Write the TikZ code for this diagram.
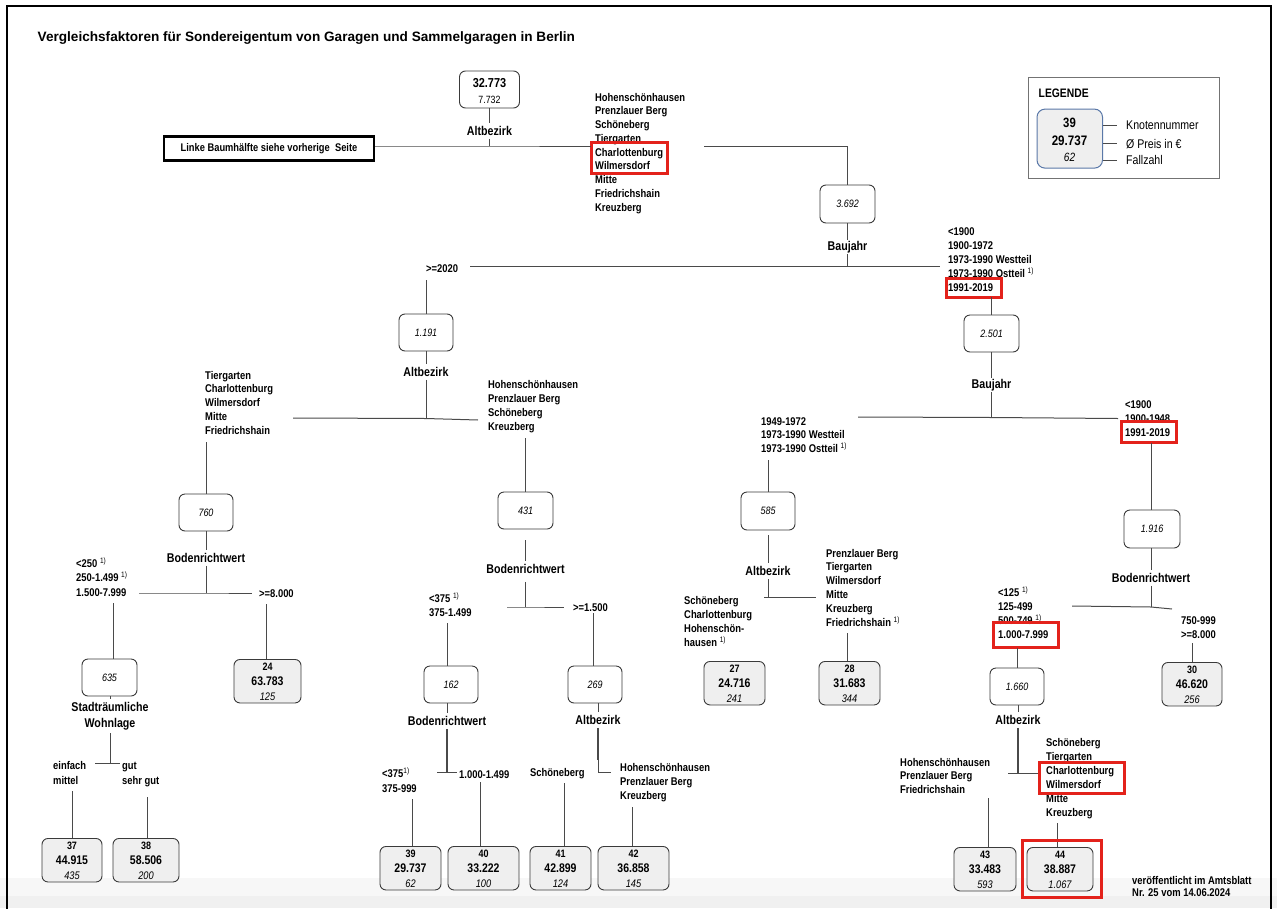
\documentclass[tikz,border=0pt]{standalone}
\usepackage{fontspec}
\setmainfont{Liberation Sans}[FakeStretch=0.84]
\newfontfamily\titlef{Liberation Sans}
\usetikzlibrary{calc}
\definecolor{hred}{HTML}{E3221B}
\definecolor{lnc}{HTML}{4A4A4A}
\definecolor{boxc}{HTML}{3A3A3A}
\definecolor{leaff}{HTML}{EFEFEF}
\definecolor{legb}{HTML}{5A78A8}
\newcommand\fs[2]{\fontsize{#1}{#2}\selectfont}
\newcommand\ls[2]{\vtop{\baselineskip=#1pt\lineskiplimit=-100pt\halign{##\hfil\cr#2\crcr}}}
\newcommand\lsc[2]{\vtop{\baselineskip=#1pt\lineskiplimit=-100pt\halign{\hfil##\hfil\cr#2\crcr}}}
\newcommand\supone{\textsuperscript{\mdseries 1)}}
\tikzset{
 ln/.style={draw=lnc, line width=1pt},
 lnb/.style={draw=lnc, line width=1.8pt},
 ibox/.style={draw=boxc, line width=0.9pt, rounded corners=6pt, fill=white, inner sep=0pt, font=\fs{10.7}{12}\itshape},
 lbox/.style={draw=boxc, line width=0.9pt, rounded corners=6pt, fill=leaff, inner sep=0pt},
 var/.style={font=\fs{12.7}{15}\bfseries, inner sep=3pt, anchor=base},
 lst/.style={font=\fs{11.2}{14}\bfseries, inner sep=0pt, anchor=base west},
 hl/.style={draw=hred, line width=3pt},
 fnum/.style={font=\fs{10.7}{12}\bfseries, inner sep=0pt, anchor=base},
 fpr/.style={font=\fs{12.5}{14}\bfseries, inner sep=0pt, anchor=base},
 fcnt/.style={font=\fs{11}{12}\itshape, inner sep=0pt, anchor=base},
 legt/.style={font=\fs{12.6}{14}, inner sep=0pt, anchor=base west},
}
\newcommand\leaf[7]{%
 \node[lbox, minimum width={#3-#2}, minimum height=43.5, anchor=north] (#1) at ({(#2+#3)/2},#4) {};
 \node[fnum] (#1n) at ({(#2+#3)/2},#4+11.5) {#5};
 \node[fpr] (#1p) at ({(#2+#3)/2},#4+26.5) {#6};
 \node[fcnt] (#1c) at ({(#2+#3)/2},#4+41) {#7};}
\begin{document}
\begin{tikzpicture}[x=1pt,y=-1pt]
\useasboundingbox (0,0) rectangle (1277,908);
\fill[black!3] (0,878) rectangle (1277,896);
\fill[black!6] (0,896) rectangle (1277,908);
\draw[line width=2.2pt] (7,912) -- (7,6) -- (1271,6) -- (1271,912);

\node[anchor=base west, inner sep=0pt, font={\titlef\fs{13.6}{16}\bfseries}] (title) at (37.5,41) {Vergleichsfaktoren für Sondereigentum von Garagen und Sammelgaragen in Berlin};

% legend
\draw[draw=black!55, line width=1pt] (1028,77) rectangle (1219,178);
\node[anchor=base west, inner sep=0pt, font=\fs{12.3}{14}\bfseries] (legh) at (1038.5,97.7) {LEGENDE};
\node[draw=legb, line width=1pt, rounded corners=8pt, fill=leaff, minimum width=65.5, minimum height=59, inner sep=0pt] (legbox) at (1069.75,138.6) {};
\node[fnum, font=\fs{13.5}{15}\bfseries] (leg1) at (1069.5,127) {39};
\node[fpr, font=\fs{13.8}{15}\bfseries] (leg2) at (1069.5,145) {29.737};
\node[fcnt, font=\fs{12}{14}\itshape] (leg3) at (1069.5,161) {62};
\node[legt] (legk) at (1126,129.5) {Knotennummer};
\node[legt] (legp) at (1126,148) {Ø Preis in €};
\node[legt] (legf) at (1126,164.5) {Fallzahl};
\draw[ln] (legbox.east |- legk.west) -- ([xshift=-9pt]legk.west);
\draw[ln] (legbox.east |- legp.west) -- ([xshift=-9pt]legp.west);
\draw[ln] (legbox.east |- legf.west) -- ([xshift=-9pt]legf.west);

% root
\node[ibox, minimum width=60, minimum height=37] (root) at (489.5,89.5) {};
\node[fnum, font=\fs{13}{14}\bfseries] (roota) at (489.5,87.5) {32.773};
\node[fnum, font=\fs{10.5}{12}\mdseries] (rootb) at (489.5,103) {7.732};
\node[var] (vA0) at (489.5,135.5) {Altbezirk};
\coordinate (j0) at (489.5,146);
\coordinate (c0a) at (591,146);
\coordinate (c0b) at (704,146);
\node[draw, line width=2.2pt, minimum width=210, minimum height=24, inner sep=0pt, font=\fs{11.1}{13}\bfseries] (linke) at (269,148.5) {Linke Baumhälfte siehe vorherige~ Seite};
\node[lst] (lst0) at (595,101) {\ls{13.75}{Hohenschönhausen\cr Prenzlauer Berg\cr Schöneberg\cr Tiergarten\cr Charlottenburg\cr Wilmersdorf\cr Mitte\cr Friedrichshain\cr Kreuzberg}};
\draw[hl] (591,142) rectangle (667,173);
\draw[ln] (root.south) -- (vA0.north);
\draw[ln] (vA0.south) -- (j0);
\draw[ln] (linke.east |- j0) -- (j0) -- (c0a);

% 3.692
\node[ibox, minimum width=55, minimum height=38] (b3692) at (847.5,204) {3.692};
\draw[ln] (c0b) -- (c0b -| b3692.north) -- (b3692.north);
\node[var, inner sep=1pt] (vB1) at (847.5,250.5) {Baujahr};
\coordinate (j1) at (847.5,266.5);
\coordinate (c1a) at (470,266.5);
\coordinate (c1b) at (940,266.5);
\draw[ln] (b3692.south) -- (vB1.north);
\draw[ln] (vB1.south) -- (j1);
\draw[ln] (c1a) -- (j1) -- (c1b);
\node[lst] (l1a) at (426,272) {>=2020};
\node[lst] (l1b) at (948,235) {\ls{14}{<1900\cr 1900-1972\cr 1973-1990 Westteil\cr 1973-1990 Ostteil \supone\cr 1991-2019}};
\draw[hl] (946,278) rectangle (1001,297);

% 1.191
\node[ibox, minimum width=54, minimum height=37] (b1191) at (426,332.5) {1.191};
\coordinate (c1c) at (426,280);
\draw[ln] (c1c) -- (b1191.north);
\node[var] (vA1) at (426,376.5) {Altbezirk};
\coordinate (j2) at (426,418.5);
\coordinate (c2a) at (293,418);
\coordinate (c2b) at (478,420);
\draw[ln] (b1191.south) -- (vA1.north);
\draw[ln] (vA1.south) -- (j2);
\draw[ln] (c2a) -- (j2) -- (c2b);
\node[lst] (l2a) at (205,379) {\ls{13.75}{Tiergarten\cr Charlottenburg\cr Wilmersdorf\cr Mitte\cr Friedrichshain}};
\node[lst] (l2b) at (488,388) {\ls{14}{Hohenschönhausen\cr Prenzlauer Berg\cr Schöneberg\cr Kreuzberg}};
\coordinate (c2c) at (206,442);
\coordinate (c2d) at (525.5,438);

% 2.501
\node[ibox, minimum width=55, minimum height=37] (b2501) at (991.5,333.5) {2.501};
\coordinate (c1d) at (991.5,297);
\draw[ln] (c1d) -- (b2501.north);
\node[var, inner sep=1pt] (vB2) at (991.5,388.5) {Baujahr};
\coordinate (j3) at (991.5,417.5);
\coordinate (c3a) at (858,417);
\coordinate (c3b) at (1118,418.5);
\draw[ln] (b2501.south) -- (vB2.north);
\draw[ln] (vB2.south) -- (j3);
\draw[ln] (c3a) -- (j3) -- (c3b);
\node[lst] (l3a) at (761,425) {\ls{13.5}{1949-1972\cr 1973-1990 Westteil\cr 1973-1990 Ostteil \supone}};
\node[lst] (l3b) at (1125,408) {\ls{14}{<1900\cr 1900-1948\cr 1991-2019}};
\draw[hl] (1121,421) rectangle (1176,442);
\coordinate (c3c) at (768,460);
\coordinate (c3d) at (1151,443);

% 760
\node[ibox, minimum width=54, minimum height=37] (b760) at (206,512.5) {760};
\draw[ln] (c2c) -- (b760.north);
\node[var] (vR1) at (206,562.5) {Bodenrichtwert};
\coordinate (j4) at (206,593);
\coordinate (c4a) at (139,593);
\coordinate (c4b) at (252,593);
\draw[ln] (b760.south) -- (vR1.north);
\draw[ln] (vR1.south) -- (j4);
\draw[ln] (c4a) -- (j4) -- (c4b);
\node[lst] (l4a) at (76,567) {\ls{14.5}{<250 \supone\cr 250-1.499 \supone\cr 1.500-7.999}};
\node[lst] (l4b) at (259,597) {>=8.000};
\coordinate (c4c) at (113,603);
\coordinate (c4d) at (266,604);

% 635
\node[ibox, minimum width=55, minimum height=37] (b635) at (109.5,677.5) {635};
\draw[ln] (c4c) -- (c4c |- b635.north);
\node[var] (vS) at (110,711.5) {\lsc{16}{Stadträumliche\cr Wohnlage}};
\coordinate (j5) at (110,763);
\coordinate (c5a) at (95,763);
\coordinate (c5b) at (120,763);
\draw[ln] (b635.south -| vS) -- (vS.north);
\draw[ln] (vS.south) -- (j5);
\draw[ln] (c5a) -- (j5) -- (c5b);
\node[lst] (l5a) at (53,769) {\ls{15}{einfach\cr mittel}};
\node[lst] (l5b) at (122,769) {\ls{15}{gut\cr sehr gut}};
\coordinate (c5c) at (72,791);
\coordinate (c5d) at (147,797);

\leaf{b24}{234}{301}{659}{24}{63.783}{125}
\draw[ln] (c4d) -- (c4d |- b24.north);
\leaf{b37}{42}{102}{838}{37}{44.915}{435}
\leaf{b38}{113}{179}{838}{38}{58.506}{200}
\draw[ln] (c5c) -- (c5c |- b37.north);
\draw[ln] (c5d) -- (c5d |- b38.north);

% 431
\node[ibox, minimum width=55, minimum height=37] (b431) at (525.5,510.5) {431};
\draw[ln] (c2d) -- (b431.north);
\node[var] (vR2) at (525.5,573.5) {Bodenrichtwert};
\coordinate (j6) at (525.5,607);
\coordinate (c6a) at (507,607);
\coordinate (c6b) at (564,607);
\draw[ln] ([yshift=-11pt]b431.south) -- (vR2.north);
\draw[ln] ([yshift=-5pt]vR2.south) -- (j6);
\draw[ln] (c6a) -- (j6) -- (c6b);
\node[lst] (l6a) at (429,602) {\ls{14}{<375 \supone\cr 375-1.499}};
\node[lst] (l6b) at (573,611) {>=1.500};
\coordinate (c6c) at (447,623);
\coordinate (c6d) at (593,613);

% 162
\node[ibox, minimum width=54, minimum height=37] (b162) at (451,684.5) {162};
\draw[ln] (c6c) -- (c6c |- b162.north);
\node[var] (vR3) at (447,725.5) {Bodenrichtwert};
\coordinate (j7) at (447,772);
\coordinate (c7a) at (437,772);
\coordinate (c7b) at (457,772);
\draw[ln] (b162.south -| vR3) -- (vR3.north);
\draw[lnb] (vR3.south) -- (j7);
\draw[ln] (c7a) -- (c7b);
\node[lst] (l7a) at (382,777) {\ls{15}{<375\supone\cr 375-999}};
\node[lst] (l7b) at (459,778) {1.000-1.499};
\coordinate (c7c) at (412,799);
\coordinate (c7d) at (480,782);
\leaf{b39}{380}{441}{846}{39}{29.737}{62}
\leaf{b40}{448}{519}{846}{40}{33.222}{100}
\draw[ln] (c7c) -- (c7c |- b39.north);
\draw[ln] (c7d) -- (c7d |- b40.north);

% 269
\node[ibox, minimum width=54, minimum height=37] (b269) at (595,684.5) {269};
\draw[ln] (c6d) -- (c6d |- b269.north);
\node[var] (vA3) at (598,724.5) {Altbezirk};
\coordinate (j8) at (598,760);
\coordinate (j8b) at (598,772);
\coordinate (c8b) at (611,772);
\draw[ln] (b269.south -| vA3) -- (vA3.north);
\draw[lnb] (vA3.south) -- (j8);
\draw[ln] (j8) -- (j8b) -- (c8b);
\node[lst] (l8a) at (530,776) {Schöneberg};
\node[lst] (l8b) at (620,771) {\ls{14}{Hohenschönhausen\cr Prenzlauer Berg\cr Kreuzberg}};
\coordinate (c8c) at (564,783);
\coordinate (c8d) at (632,807);
\leaf{b41}{530}{591}{846}{41}{42.899}{124}
\leaf{b42}{598}{669}{846}{42}{36.858}{145}
\draw[ln] (c8c) -- (c8c |- b41.north);
\draw[ln] (c8d) -- (c8d |- b42.north);

% 585
\node[ibox, minimum width=54, minimum height=38] (b585) at (768,511) {585};
\draw[ln] (c3c) -- (b585.north);
\node[var] (vA4) at (768,575.5) {Altbezirk};
\coordinate (c9a) at (764,597);
\coordinate (c9b) at (816,597);
\draw[ln] ([yshift=-5pt]b585.south) -- (vA4.north);
\draw[ln] (vA4.south) -- (vA4.south |- c9a);
\draw[ln] (c9a) -- (c9b);
\node[lst] (l9a) at (684,604) {\ls{14.2}{Schöneberg\cr Charlottenburg\cr Hohenschön-\cr hausen \supone}};
\node[lst] (l9b) at (826,557) {\ls{13.9}{Prenzlauer Berg\cr Tiergarten\cr Wilmersdorf\cr Mitte\cr Kreuzberg\cr Friedrichshain \supone}};
\coordinate (c9c) at (847,633);
\leaf{b27}{704}{765}{661}{27}{24.716}{241}
\leaf{b28}{819}{880}{661}{28}{31.683}{344}
\draw[ln] (c9c) -- (c9c |- b28.north);

% 1.916
\node[ibox, minimum width=56, minimum height=38] (b1916) at (1152,529) {1.916};
\draw[ln] (c3d) -- (c3d |- b1916.north);
\node[var] (vR4) at (1151,582.5) {Bodenrichtwert};
\coordinate (j10) at (1151,607);
\coordinate (c10a) at (1072,606);
\coordinate (c10b) at (1172,609);
\draw[ln] (b1916.south -| vR4) -- (vR4.north);
\draw[ln] (vR4.south) -- (j10);
\draw[ln] (c10a) -- (j10) -- (c10b);
\node[lst] (l10a) at (998,596) {\ls{14.3}{<125 \supone\cr 125-499\cr 500-749 \supone\cr 1.000-7.999}};
\draw[hl] (993,622) rectangle (1058,647);
\node[lst] (l10b) at (1181,624.6) {\ls{14.3}{750-999\cr >=8.000}};
\coordinate (c10c) at (1017,648);
\coordinate (c10d) at (1192,643);
\leaf{b30}{1162}{1222}{662}{30}{46.620}{256}
\draw[ln] (c10d) -- (b30.north);

% 1.660
\node[ibox, minimum width=54, minimum height=37] (b1660) at (1017,686.5) {1.660};
\draw[ln] (c10c) -- (b1660.north);
\node[var] (vA5) at (1018,724.5) {Altbezirk};
\coordinate (j11) at (1018,773);
\coordinate (c11a) at (1008,773);
\coordinate (c11b) at (1040,773);
\draw[ln] (b1660.south -| vA5) -- (vA5.north);
\draw[lnb] (vA5.south) -- (j11);
\draw[ln] (c11a) -- (c11b);
\node[lst] (l11a) at (900,766) {\ls{13.7}{Hohenschönhausen\cr Prenzlauer Berg\cr Friedrichshain}};
\node[lst] (l11b) at (1046,746) {\ls{14}{Schöneberg\cr Tiergarten\cr Charlottenburg\cr Wilmersdorf\cr Mitte\cr Kreuzberg}};
\draw[hl] (1039,762) rectangle (1124,793);
\coordinate (c11c) at (988,798);
\coordinate (c11d) at (1057,823);
\leaf{b43}{954}{1016}{847}{43}{33.483}{593}
\leaf{b44}{1027}{1093}{847}{44}{38.887}{1.067}
\draw[ln] (c11c) -- (c11c |- b43.north);
\draw[ln] (c11d) -- (c11d |- b44.north);
\draw[hl] (1022,840) rectangle (1101,897);

\node[lst, font=\fs{11.2}{12}\bfseries] (pub) at (1132,884) {\ls{12}{veröffentlicht im Amtsblatt\cr Nr. 25 vom 14.06.2024}};
\end{tikzpicture}
\end{document}
